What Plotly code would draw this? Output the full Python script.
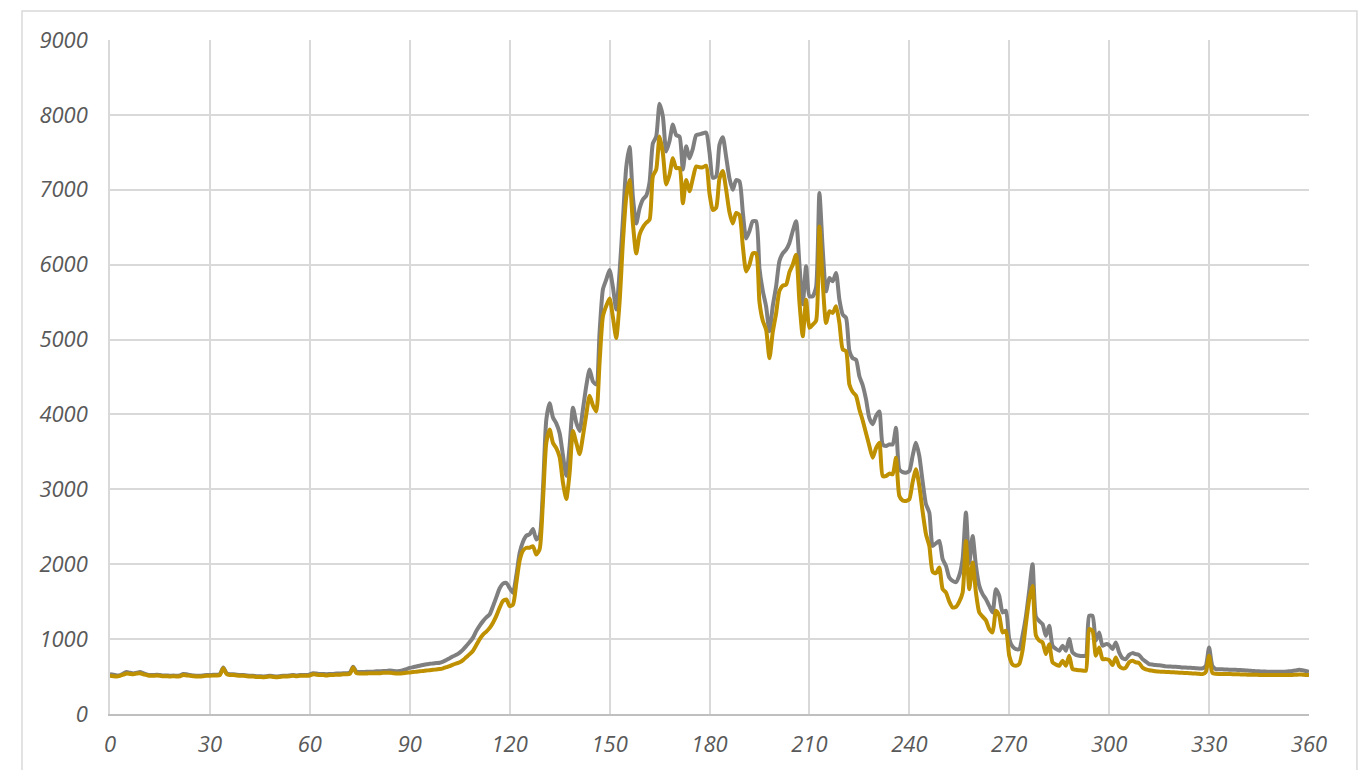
import plotly.graph_objects as go

# ── data: one value per day ─────────────────────────────────────────────────

days = list(range(0, 361))

grey_series = [
    530, 525, 515, 520, 540, 560, 550, 540, 550, 560,
    545, 530, 520, 520, 525, 520, 515, 515, 510, 515,
    510, 515, 535, 530, 520, 515, 510, 510, 515, 520,
    520, 525, 525, 530, 620, 545, 530, 530, 525, 520,
    520, 515, 510, 510, 505, 505, 500, 505, 510, 505,
    500, 505, 510, 510, 515, 520, 515, 520, 520, 520,
    530, 545, 540, 535, 535, 530, 535, 535, 540, 540,
    545, 545, 550, 630, 565, 560, 560, 565, 565, 565,
    570, 570, 575, 575, 580, 575, 570, 575, 585, 600,
    615, 625, 635, 645, 655, 665, 670, 675, 680, 685,
    700, 720, 745, 770, 790, 820, 860, 910, 960, 1020,
    1110, 1180, 1240, 1290, 1330, 1440, 1560, 1680, 1740, 1750,
    1680, 1620, 1850, 2150, 2300, 2380, 2400, 2470, 2330, 2380,
    3000, 3930, 4150, 3960, 3880, 3750, 3450, 3180, 3580, 4090,
    3890, 3780, 4070, 4380, 4600, 4440, 4400, 5100, 5670, 5800,
    5930, 5700, 5400, 5900, 6600, 7300, 7570, 6900, 6550, 6750,
    6870, 6920, 7100, 7620, 7710, 8150, 7980, 7510, 7650, 7870,
    7730, 7710, 7270, 7580, 7420, 7550, 7730, 7740, 7755, 7764,
    7500, 7160, 7180, 7600, 7700, 7440, 7150, 7000, 7130, 7110,
    6700, 6350, 6450, 6580, 6580, 5950, 5650, 5440, 5110, 5450,
    5710, 6050, 6150, 6200, 6290, 6450, 6580, 6000, 5470, 5980,
    5578, 5578, 5700, 6956, 6200, 5644, 5822, 5778, 5889, 5533,
    5333, 5290, 4850, 4750, 4730, 4511, 4390, 4200, 3950, 3870,
    3980, 4040, 3600, 3578, 3600, 3600, 3822, 3267, 3230, 3222,
    3244, 3450, 3622, 3444, 3100, 2800, 2689, 2244, 2280, 2311,
    2067, 1978, 1822, 1778, 1760, 1850, 2070, 2689, 2010, 2378,
    1978, 1711, 1600, 1533, 1444, 1356, 1667, 1578, 1356, 1378,
    1000, 900, 867, 867, 1050, 1300, 1650, 2000, 1300, 1240,
    1200, 1044, 1178, 911, 870, 844, 911, 844, 1000, 822,
    790, 778, 775, 778, 1311, 1311, 978, 1089, 911, 933,
    920, 867, 956, 822, 745, 733, 790, 813, 800, 787,
    733, 700, 667, 660, 653, 650, 645, 636, 634, 632,
    630, 627, 622, 620, 618, 615, 612, 609, 609, 640,
    889, 640, 600, 598, 596, 594, 592, 591, 590, 588,
    585, 582, 578, 575, 572, 570, 568, 566, 564, 564,
    564, 564, 564, 566, 570, 575, 580, 591, 585, 575,
    564,
]

gold_series = [
    510, 505, 500, 510, 525, 540, 535, 530, 540, 545,
    530, 520, 510, 510, 515, 510, 505, 505, 500, 505,
    500, 505, 520, 515, 510, 505, 500, 500, 505, 510,
    510, 515, 515, 520, 610, 535, 520, 520, 515, 510,
    510, 505, 500, 500, 495, 495, 490, 495, 500, 495,
    490, 495, 500, 500, 505, 510, 505, 510, 510, 510,
    515, 530, 525, 520, 520, 515, 520, 520, 525, 525,
    530, 530, 535, 620, 545, 540, 540, 540, 545, 545,
    545, 545, 550, 550, 550, 545, 540, 540, 545, 550,
    555, 560, 565, 570, 575, 580, 585, 590, 595, 600,
    610, 625, 640, 660, 675, 690, 720, 760, 800, 845,
    920, 1000, 1060, 1100, 1150, 1220, 1310, 1420, 1510, 1530,
    1440, 1460, 1750, 2050, 2180, 2220, 2220, 2240, 2130, 2200,
    2850, 3620, 3800, 3620, 3550, 3430, 3090, 2870, 3220, 3780,
    3620, 3470, 3710, 4000, 4250, 4120, 4040, 4700, 5310, 5450,
    5550, 5300, 5020, 5500, 6300, 6900, 7130, 6550, 6150, 6400,
    6500, 6560, 6600, 7180, 7270, 7710, 7490, 7070, 7200, 7420,
    7290, 7290, 6820, 7130, 6980, 7150, 7310, 7300, 7300, 7320,
    6950, 6730, 6760, 7150, 7250, 7000, 6700, 6550, 6690, 6660,
    6250, 5910, 6000, 6150, 6150, 5500, 5250, 5130, 4750, 5100,
    5350, 5650, 5720, 5733, 5900, 6000, 6133, 5500, 5044, 5533,
    5156, 5200, 5250, 6511, 5756, 5222, 5378, 5356, 5444, 5222,
    4870, 4844, 4400, 4300, 4250, 4067, 3920, 3750, 3578, 3422,
    3550, 3622, 3178, 3178, 3210, 3200, 3422, 2911, 2850, 2844,
    2867, 3100, 3267, 3044, 2700, 2400, 2244, 1900, 1880, 1956,
    1667, 1622, 1500, 1422, 1430, 1500, 1620, 2311, 1667, 2022,
    1622, 1356, 1300, 1250, 1133, 1089, 1378, 1311, 1089, 1111,
    778, 660, 644, 667, 850, 1200, 1530, 1711, 1050, 980,
    956, 800, 933, 689, 660, 644, 711, 644, 778, 600,
    590, 585, 580, 578, 1133, 1111, 778, 889, 733, 733,
    720, 653, 756, 640, 609, 620, 690, 711, 690, 680,
    620, 595, 585, 578, 570, 566, 564, 562, 560, 558,
    555, 552, 550, 548, 545, 542, 540, 536, 533, 560,
    778, 550, 537, 535, 534, 533, 533, 532, 531, 530,
    528, 526, 525, 524, 523, 522, 521, 520, 520, 520,
    520, 520, 520, 520, 521, 522, 524, 528, 525, 522,
    520,
]

x_ticks = list(range(0, 361, 30))
y_ticks = list(range(0, 9001, 1000))

GREY = "#7F7F7F"
GOLD = "#BF9000"
GRID = "#D9D9D9"
TICK_FONT = dict(family="Open Sans, sans-serif", size=22, color="#595959", style="italic")

fig = go.Figure()
for name, vals, color in [("grey", grey_series, GREY), ("gold", gold_series, GOLD)]:
    fig.add_trace(go.Scatter(
        x=days,
        y=vals,
        name=name,
        mode="lines",
        line=dict(color=color, width=4, shape="spline", smoothing=0.6),
        hoverinfo="x+y",
    ))

# page body adds an 8px margin, so the figure is 8px smaller and margins shifted
fig.update_layout(
    width=1361,
    height=762,
    paper_bgcolor="white",
    plot_bgcolor="white",
    showlegend=False,
    margin=dict(l=102, r=60, t=32, b=53),
    xaxis=dict(
        range=[0, 360],
        tickvals=x_ticks,
        showgrid=True,
        gridcolor=GRID,
        gridwidth=1.5,
        showline=True,
        linecolor="#BFBFBF",
        linewidth=1.5,
        zeroline=False,
        ticks="",
        tickfont=TICK_FONT,
        ticklabelstandoff=10,
    ),
    yaxis=dict(
        range=[0, 9000],
        tickvals=y_ticks,
        showgrid=True,
        gridcolor=GRID,
        gridwidth=1.5,
        showline=True,
        linecolor=GRID,
        linewidth=1.5,
        zeroline=False,
        ticks="",
        tickfont=TICK_FONT,
        ticklabelstandoff=16,
    ),
    shapes=[dict(
        type="rect", xref="paper", yref="paper",
        x0=-0.0734, x1=1.040, y0=-0.2, y1=1.043,
        line=dict(color=GRID, width=1.5),
        fillcolor="rgba(0,0,0,0)",
        layer="below",
    )],
)

fig.write_html("out.html")
